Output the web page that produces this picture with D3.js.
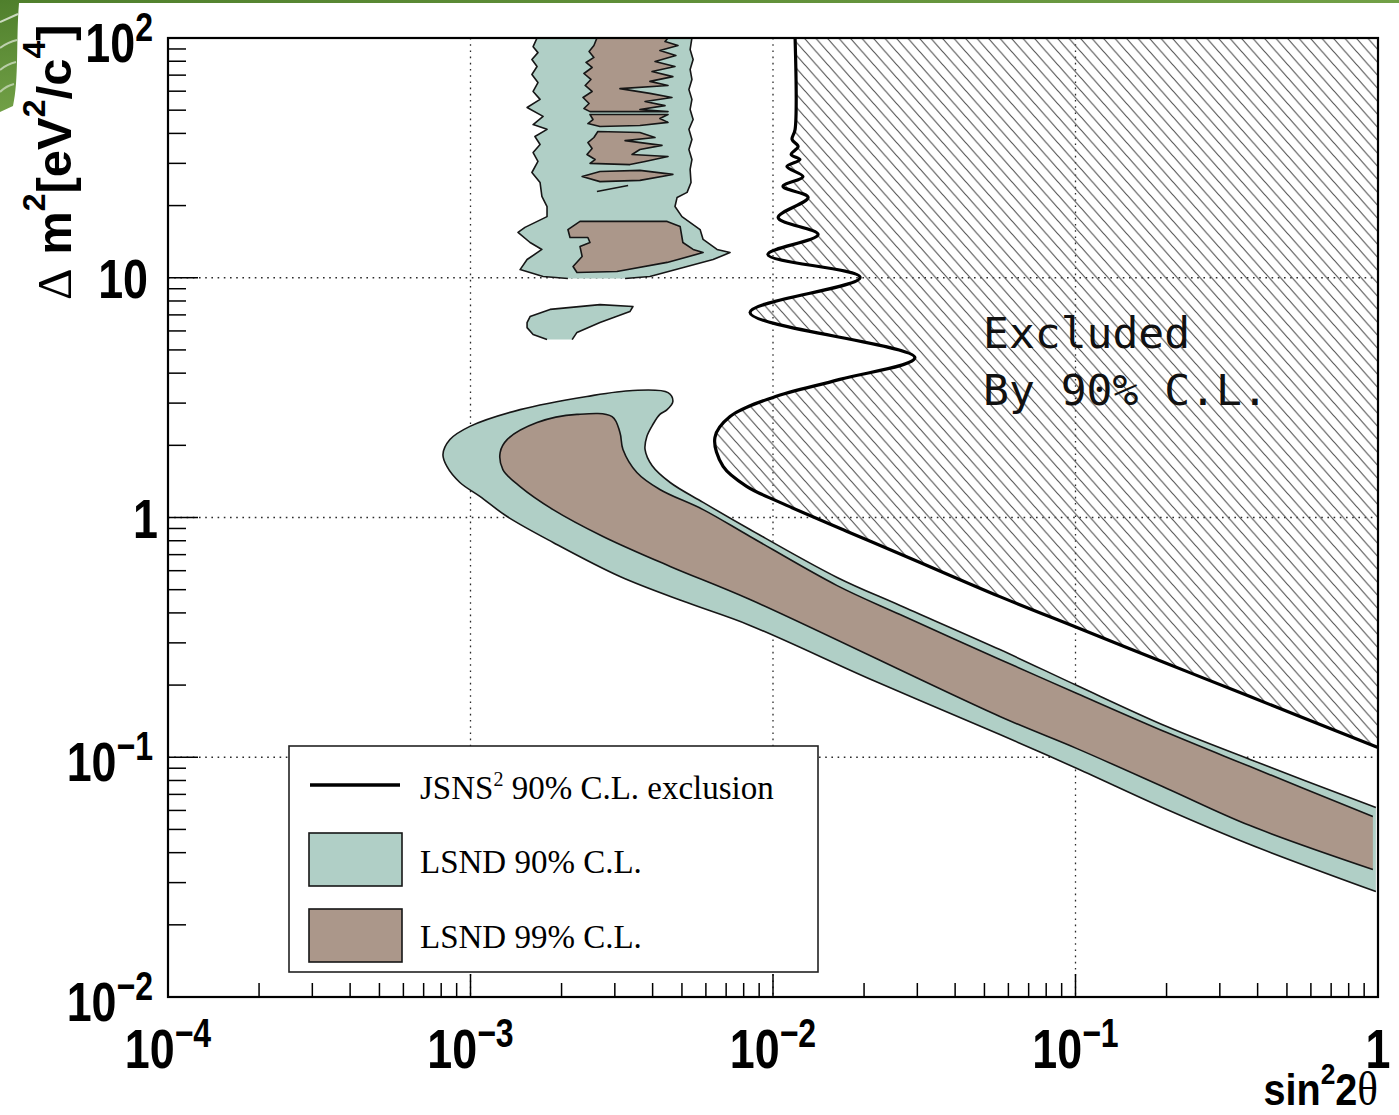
<!DOCTYPE html>
<html>
<head>
<meta charset="utf-8">
<script src="https://cdn.jsdelivr.net/npm/d3@7"></script>
<style>
  body { margin: 0; background: #fff; }
  svg { display: block; }
</style>
</head>
<body>
<svg id="chart" width="1399" height="1115"></svg>
<script>
// All contours are given as [log10(sin²2θ), log10(Δm² / eV²c⁻⁴)] pairs.

// JSNS² 90% C.L. exclusion contour (from large Δm² down to sin²2θ = 1)
const jsnsExclusion90 = [
  [-1.927, 2.000], [-1.927, 1.618], [-1.937, 1.577], [-1.917, 1.547], [-1.940, 1.514],
  [-1.911, 1.493], [-1.954, 1.464], [-1.901, 1.422], [-1.967, 1.381], [-1.884, 1.335],
  [-1.983, 1.251], [-1.851, 1.180], [-2.017, 1.097], [-1.712, 1.001], [-2.076, 0.855],
  [-1.531, 0.667], [-1.779, 0.576], [-2.000, 0.501], [-2.142, 0.421], [-2.192, 0.334],
  [-2.165, 0.213], [-2.086, 0.129], [-1.977, 0.063], [-1.755, -0.058], [-1.537, -0.175],
  [-1.250, -0.330], [-0.995, -0.459], [-0.698, -0.609], [-0.423, -0.747], [-0.258, -0.830],
  [0.000, -0.959]
];

// LSND 90% C.L. allowed regions
const lsnd90Upper = [
  [-2.678, 0.997], [-2.760, 1.005], [-2.836, 1.034], [-2.813, 1.076], [-2.764, 1.118],
  [-2.803, 1.147], [-2.843, 1.189], [-2.820, 1.210], [-2.747, 1.255], [-2.747, 1.297],
  [-2.764, 1.339], [-2.770, 1.397], [-2.797, 1.439], [-2.777, 1.485], [-2.793, 1.522],
  [-2.770, 1.556], [-2.787, 1.589], [-2.747, 1.619], [-2.793, 1.639], [-2.760, 1.673],
  [-2.813, 1.710], [-2.770, 1.744], [-2.793, 1.777], [-2.777, 1.814], [-2.797, 1.848],
  [-2.780, 1.881], [-2.797, 1.910], [-2.777, 1.939], [-2.793, 1.964], [-2.780, 2.000],
  [-2.268, 2.000], [-2.274, 1.952], [-2.264, 1.910], [-2.274, 1.869], [-2.268, 1.827],
  [-2.278, 1.785], [-2.268, 1.744], [-2.274, 1.702], [-2.264, 1.660], [-2.278, 1.619],
  [-2.268, 1.577], [-2.278, 1.535], [-2.268, 1.493], [-2.274, 1.452], [-2.271, 1.397],
  [-2.284, 1.356], [-2.317, 1.335], [-2.324, 1.297], [-2.301, 1.255], [-2.241, 1.201],
  [-2.231, 1.160], [-2.185, 1.118], [-2.142, 1.105], [-2.198, 1.076], [-2.284, 1.047],
  [-2.407, 1.005], [-2.489, 0.997]
];
const lsnd90Island = [
  [-2.664, 0.742], [-2.648, 0.772], [-2.572, 0.813], [-2.473, 0.859], [-2.463, 0.880],
  [-2.572, 0.888], [-2.737, 0.868], [-2.803, 0.838], [-2.813, 0.813], [-2.813, 0.792],
  [-2.793, 0.763], [-2.747, 0.742]
];
const lsnd90Band = [
  [-0.007, -1.560], [-0.423, -1.364], [-0.698, -1.218], [-0.995, -1.047], [-1.250, -0.905],
  [-1.672, -0.678], [-2.076, -0.450], [-2.284, -0.355], [-2.506, -0.246], [-2.727, -0.104],
  [-2.879, 0.004], [-2.969, 0.088], [-3.035, 0.146], [-3.078, 0.213], [-3.091, 0.263],
  [-3.068, 0.325], [-3.002, 0.380], [-2.836, 0.450], [-2.615, 0.505], [-2.463, 0.530],
  [-2.347, 0.521], [-2.331, 0.484], [-2.350, 0.450], [-2.374, 0.430], [-2.397, 0.388],
  [-2.417, 0.338], [-2.423, 0.284], [-2.400, 0.217], [-2.340, 0.146], [-2.231, 0.063],
  [-2.076, -0.050], [-1.788, -0.250], [-1.580, -0.367], [-1.250, -0.551], [-0.995, -0.701],
  [-0.698, -0.872], [-0.423, -1.009], [-0.007, -1.210]
];

// LSND 99% C.L. allowed regions
const lsnd99Upper = [
  [[-2.582, 2.000], [-2.592, 1.969], [-2.608, 1.944], [-2.592, 1.919], [-2.618, 1.898],
   [-2.598, 1.877], [-2.625, 1.852], [-2.602, 1.827], [-2.621, 1.802], [-2.598, 1.777],
   [-2.628, 1.752], [-2.608, 1.727], [-2.625, 1.706], [-2.605, 1.693], [-2.347, 1.693],
   [-2.440, 1.702], [-2.357, 1.718], [-2.423, 1.735], [-2.334, 1.752], [-2.407, 1.769],
   [-2.506, 1.789], [-2.347, 1.802], [-2.407, 1.819], [-2.331, 1.839], [-2.400, 1.860],
   [-2.324, 1.881], [-2.390, 1.902], [-2.321, 1.927], [-2.374, 1.948], [-2.314, 1.969],
   [-2.357, 1.985], [-2.347, 2.000]],
  [[-2.605, 1.681], [-2.347, 1.681], [-2.374, 1.664], [-2.347, 1.648], [-2.440, 1.635],
   [-2.572, 1.631], [-2.612, 1.643], [-2.595, 1.660]],
  [[-2.579, 1.610], [-2.440, 1.606], [-2.390, 1.585], [-2.489, 1.572], [-2.367, 1.552],
   [-2.440, 1.535], [-2.466, 1.514], [-2.347, 1.506], [-2.423, 1.485], [-2.473, 1.472],
   [-2.605, 1.477], [-2.588, 1.493], [-2.615, 1.514], [-2.598, 1.539], [-2.612, 1.564],
   [-2.592, 1.585]],
  [[-2.631, 1.422], [-2.572, 1.443], [-2.440, 1.448], [-2.331, 1.431], [-2.440, 1.406],
   [-2.572, 1.401]],
  [[-2.638, 1.235], [-2.350, 1.235], [-2.307, 1.214], [-2.298, 1.147], [-2.264, 1.118],
   [-2.231, 1.105], [-2.350, 1.064], [-2.516, 1.026], [-2.648, 1.022], [-2.661, 1.047],
   [-2.631, 1.089], [-2.638, 1.130], [-2.605, 1.147], [-2.612, 1.168], [-2.671, 1.168],
   [-2.678, 1.201]]
];
const lsnd99Streak = [[-2.582, 1.360], [-2.479, 1.385]];
const lsnd99Band = [
  [-0.017, -1.468], [-0.423, -1.285], [-0.698, -1.130], [-0.995, -0.964], [-1.250, -0.830],
  [-2.076, -0.342], [-2.340, -0.204], [-2.562, -0.079], [-2.727, 0.033], [-2.836, 0.129],
  [-2.893, 0.200], [-2.902, 0.271], [-2.879, 0.325], [-2.780, 0.396], [-2.648, 0.430],
  [-2.532, 0.421], [-2.506, 0.355], [-2.496, 0.284], [-2.450, 0.188], [-2.374, 0.117],
  [-2.231, 0.033], [-2.076, -0.079], [-1.788, -0.284], [-1.580, -0.405], [-1.250, -0.592],
  [-0.995, -0.734], [-0.698, -0.897], [-0.423, -1.039], [-0.017, -1.247]
];

// Axis decades and their labels (base, exponent)
const xDecades = [1e-4, 1e-3, 1e-2, 1e-1, 1];
const xTickLabels = [["10", "−4"], ["10", "−3"], ["10", "−2"], ["10", "−1"], ["1", ""]];
const yDecades = [1e-2, 1e-1, 1, 10, 100];
const yTickLabels = [["10", "−2"], ["10", "−1"], ["1", ""], ["10", ""], ["10", "2"]];

const legendLabels = ["90% C.L. exclusion", "LSND 90% C.L.", "LSND 99% C.L."];
const excludedText = ["Excluded", "By 90% C.L."];

// ---------------------------------------------------------------------------
const svg = d3.select("#chart");
const frame = { left: 168, right: 1378, top: 38, bottom: 997 };
const green = "#b0cfc6", brown = "#ab978a", ink = "#161616";
const sans = "'Liberation Sans', Arial, sans-serif";
const serif = "'Liberation Serif', 'Times New Roman', serif";

const x = d3.scaleLog().domain([1e-4, 1]).range([frame.left, frame.right]);
const y = d3.scaleLog().domain([1e-2, 1e2]).range([frame.bottom, frame.top]);
const px = d => x(Math.pow(10, d[0]));
const py = d => y(Math.pow(10, d[1]));
const lin = d3.line().x(px).y(py);
const linClosed = d3.line().x(px).y(py).curve(d3.curveLinearClosed);
const smooth = d3.line().x(px).y(py).curve(d3.curveCatmullRom.alpha(0.5));

const defs = svg.append("defs");
defs.append("clipPath").attr("id", "plotClip").append("rect")
  .attr("x", frame.left).attr("y", frame.top)
  .attr("width", frame.right - frame.left).attr("height", frame.bottom - frame.top);

const pat = defs.append("pattern").attr("id", "hatch")
  .attr("patternUnits", "userSpaceOnUse").attr("width", 11.5).attr("height", 13);
pat.append("path")
  .attr("d", "M-12.65,-1.3 L1.15,14.3 M-1.15,-1.3 L12.65,14.3 M10.35,-1.3 L24.15,14.3")
  .attr("stroke", "#555").attr("stroke-width", 1.15).attr("fill", "none");

const grad = defs.append("linearGradient").attr("id", "leaf")
  .attr("x1", 0).attr("y1", 0).attr("x2", 1).attr("y2", 1);
grad.append("stop").attr("offset", "0%").attr("stop-color", "#4f7f2c");
grad.append("stop").attr("offset", "100%").attr("stop-color", "#93c060");

// page decoration: thin green band along the top and a leaf at the corner
svg.append("rect").attr("width", 1399).attr("height", 1115).attr("fill", "#fff");
svg.append("path")
  .attr("d", "M0,0 H1399 V3 H19 C16,40 19,80 13,106 L0,112 Z")
  .attr("fill", "url(#leaf)");
[["M0,22 Q9,18 18,14", 0.7], ["M0,48 Q8,42 17,40", 0.6], ["M0,70 Q7,64 16,62", 0.55],
 ["M0,92 Q6,86 14,84", 0.5]].forEach(([d, o]) =>
  svg.append("path").attr("d", d).attr("stroke", "#fff").attr("stroke-opacity", o)
    .attr("stroke-width", 2).attr("fill", "none"));

const plotG = svg.append("g").attr("clip-path", "url(#plotClip)");

// dotted grid at each decade
const grid = plotG.append("g").attr("stroke", "#2a2a2a").attr("stroke-width", 1.3)
  .attr("stroke-dasharray", "1.6,4.6");
xDecades.slice(1, -1).forEach(v => grid.append("line")
  .attr("x1", x(v)).attr("x2", x(v)).attr("y1", frame.top).attr("y2", frame.bottom));
yDecades.slice(1, -1).forEach(v => grid.append("line")
  .attr("y1", y(v)).attr("y2", y(v)).attr("x1", frame.left).attr("x2", frame.right));

// hatched excluded area to the right of the JSNS² contour
plotG.append("path")
  .attr("d", smooth(jsnsExclusion90) + "L" + x(1) + "," + y(100) + "Z")
  .attr("fill", "url(#hatch)");

// LSND allowed regions. An open path is filled as if closed but its stroke
// skips the closing segment, which leaves the cut edges without an outline.
function region(data, fill, gen) {
  plotG.append("path").attr("d", gen(data))
    .attr("fill", fill).attr("stroke", ink).attr("stroke-width", 1.6)
    .attr("stroke-linejoin", "round");
}
region(lsnd90Upper, green, lin);
region(lsnd90Island, green, lin);
region(lsnd90Band, green, smooth);
lsnd99Upper.forEach(b => region(b, brown, linClosed));
region(lsnd99Streak, "none", lin);
region(lsnd99Band, brown, smooth);

// JSNS² exclusion contour
plotG.append("path").attr("d", smooth(jsnsExclusion90))
  .attr("fill", "none").attr("stroke", "#000").attr("stroke-width", 3.2)
  .attr("stroke-linejoin", "round");

// "Excluded By 90% C.L." annotation
const ann = svg.append("text").attr("font-family", "'DejaVu Sans Mono', monospace")
  .attr("font-size", 43).attr("fill", "#111");
excludedText.forEach((t, i) => ann.append("tspan")
  .attr("x", 983).attr("y", 348 + i * 57).text(t));

// frame and ticks
svg.append("rect")
  .attr("x", frame.left).attr("y", frame.top)
  .attr("width", frame.right - frame.left).attr("height", frame.bottom - frame.top)
  .attr("fill", "none").attr("stroke", "#000").attr("stroke-width", 2.2);

const isDecade = v => Math.abs(Math.log10(v) - Math.round(Math.log10(v))) < 1e-6;
const ticks = svg.append("g").attr("stroke", "#000").attr("stroke-width", 1.5);
x.ticks().forEach(v => ticks.append("line")
  .attr("x1", x(v)).attr("x2", x(v))
  .attr("y1", frame.bottom).attr("y2", frame.bottom - (isDecade(v) ? 23 : 14)));
y.ticks().forEach(v => ticks.append("line")
  .attr("y1", y(v)).attr("y2", y(v))
  .attr("x1", frame.left).attr("x2", frame.left + (isDecade(v) ? 30 : 18)));

// tick labels: bold, slightly condensed, with superscript exponents
function powerLabel(g, base, exp) {
  const t = g.append("text").attr("font-family", sans).attr("font-weight", "bold")
    .attr("fill", "#000");
  t.append("tspan").attr("font-size", 56).text(base);
  if (exp) t.append("tspan").attr("font-size", 40).attr("dy", -21).text(exp);
  return t;
}
xDecades.forEach((v, i) => {
  const g = svg.append("g")
    .attr("transform", `translate(${x(v)},1068) scale(0.8,1)`);
  powerLabel(g, xTickLabels[i][0], xTickLabels[i][1]).attr("text-anchor", "middle");
});
yDecades.forEach((v, i) => {
  const [base, exp] = yTickLabels[i];
  const right = exp ? 153 : (base === "1" ? 158 : 148);
  const g = svg.append("g")
    .attr("transform", `translate(${right},${y(v) + (exp ? 24 : 20)}) scale(0.8,1)`);
  powerLabel(g, base, exp).attr("text-anchor", "end");
});

// axis titles
const yt = svg.append("g").attr("transform", "translate(71,300) rotate(-90)")
  .append("text").attr("font-family", sans).attr("font-weight", "bold")
  .attr("font-size", 49).attr("fill", "#000");
yt.append("tspan").attr("font-family", serif).attr("font-weight", "normal").text("Δ");
yt.append("tspan").text(" m");
yt.append("tspan").attr("font-size", 32).attr("dy", -26).text("2");
yt.append("tspan").attr("dy", 26).text("[eV");
yt.append("tspan").attr("font-size", 32).attr("dy", -26).text("2");
yt.append("tspan").attr("dy", 26).text("/c");
yt.append("tspan").attr("font-size", 32).attr("dy", -26).text("4");
yt.append("tspan").attr("dy", 26).text("]");

const xt = svg.append("g").attr("transform", "translate(1378,1105) scale(0.88,1)")
  .append("text").attr("text-anchor", "end").attr("font-family", sans)
  .attr("font-weight", "bold").attr("font-size", 45).attr("fill", "#000");
xt.append("tspan").text("sin");
xt.append("tspan").attr("font-size", 30).attr("dy", -21).text("2");
xt.append("tspan").attr("dy", 21).text("2");
xt.append("tspan").attr("font-family", serif).attr("font-weight", "normal")
  .attr("font-size", 49).text("θ");

// legend
const lg = svg.append("g");
lg.append("rect").attr("x", 289).attr("y", 746).attr("width", 529).attr("height", 226)
  .attr("fill", "#fff").attr("stroke", "#222").attr("stroke-width", 1.6);
lg.append("line").attr("x1", 310).attr("x2", 400).attr("y1", 785).attr("y2", 785)
  .attr("stroke", "#000").attr("stroke-width", 3.5);
[[green, 833], [brown, 909]].forEach(([c, top]) => lg.append("rect")
  .attr("x", 309).attr("y", top).attr("width", 93).attr("height", 53)
  .attr("fill", c).attr("stroke", ink).attr("stroke-width", 1.6));
const l1 = lg.append("text").attr("x", 420).attr("y", 799)
  .attr("font-family", serif).attr("font-size", 33).attr("fill", "#000");
l1.append("tspan").text("JSNS");
l1.append("tspan").attr("font-size", 20).attr("dy", -13).text("2");
l1.append("tspan").attr("dy", 13).text(" " + legendLabels[0]);
[[legendLabels[1], 873], [legendLabels[2], 948]].forEach(([t, yy]) =>
  lg.append("text").attr("x", 420).attr("y", yy).attr("font-family", serif)
    .attr("font-size", 33).attr("fill", "#000").text(t));
</script>
</body>
</html>
